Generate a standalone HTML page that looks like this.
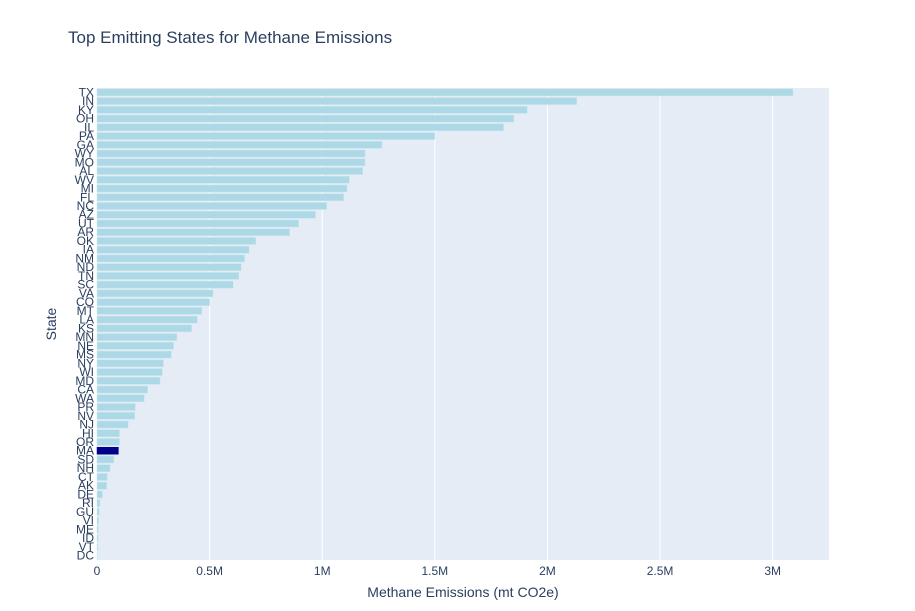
<!DOCTYPE html>
<html><head><meta charset="utf-8"><style>
body{margin:0;background:#fff;font-family:"Liberation Sans",sans-serif}
svg text{font-family:"Liberation Sans",sans-serif;fill:#2a3f5f}
</style></head><body>
<svg id="chart" width="915" height="606" xmlns="http://www.w3.org/2000/svg">
<text x="68" y="43" font-size="17">Top Emitting States for Methane Emissions</text>
<rect x="97" y="88" width="732" height="472" fill="#e5ecf6"/>
<g id="grid"></g><g id="bars"></g><g id="yticks"></g><g id="xticks"></g>
<text x="463" y="597" font-size="14" text-anchor="middle">Methane Emissions (mt CO2e)</text>
<text x="0" y="0" font-size="14" text-anchor="middle" transform="translate(56,324) rotate(-90)">State</text>
</svg>
<script>
const states=["TX","IN","KY","OH","IL","PA","GA","WY","MO","AL","WV","MI","FL","NC","AZ","UT","AR","OK","IA","NM","ND","TN","SC","VA","CO","MT","LA","KS","MN","NE","MS","NY","WI","MD","CA","WA","PR","NV","NJ","HI","OR","MA","SD","NH","CT","AK","DE","RI","GU","VI","ME","ID","VT","DC"];
const emissions=[3090000,2130000,1910000,1850000,1805000,1500000,1265000,1190000,1190000,1180000,1120000,1110000,1095000,1020000,970000,895000,855000,705000,675000,655000,640000,630000,605000,515000,500000,465000,445000,420000,355000,340000,330000,295000,290000,280000,225000,210000,170000,168000,138000,100000,100000,95000,75000,58000,45000,43000,24000,13000,10000,7000,6000,5000,4000,500];
const highlight="MA";
const xTicks=[0,500000,1000000,1500000,2000000,2500000,3000000];
const xTickLabels=["0","0.5M","1M","1.5M","2M","2.5M","3M"];
const NS="http://www.w3.org/2000/svg";
const X0=97,X1=829,XMAX=3250000,Y0=88,Y1=560;
const xs=v=>X0+v/XMAX*(X1-X0);
const band=(Y1-Y0)/states.length;
const ys=i=>Y0+i*band;
function mk(t,a){const e=document.createElementNS(NS,t);for(const k in a)e.setAttribute(k,a[k]);return e;}
const grid=document.getElementById('grid'),bars=document.getElementById('bars'),yt=document.getElementById('yticks'),xt=document.getElementById('xticks');
xTicks.forEach((v,i)=>{
 if(v>0){const l=mk('line',{x1:xs(v),x2:xs(v),y1:Y0,y2:Y1,stroke:'#fff','stroke-width':1});
 
 
 grid.appendChild(l);}
 const t=mk('text',{x:xs(v),y:575,'font-size':12,'text-anchor':'middle'});t.textContent=xTickLabels[i];
 
 
 xt.appendChild(t);
});
states.forEach((s,i)=>{
 const r=mk('rect',{x:X0,y:ys(i)+band*0.1,width:Math.max(0,xs(emissions[i])-X0),height:band*0.8,fill:s===highlight?'#00008b':'#add8e6',stroke:s===highlight?'#00008b':'#c7e6ee','stroke-width':0.5});
 
 
 bars.appendChild(r);
 const t=mk('text',{x:94,y:ys(i)+band/2+4,'font-size':12,'text-anchor':'end'});t.textContent=s;
 
 
 yt.appendChild(t);
});
</script>
</body></html>
